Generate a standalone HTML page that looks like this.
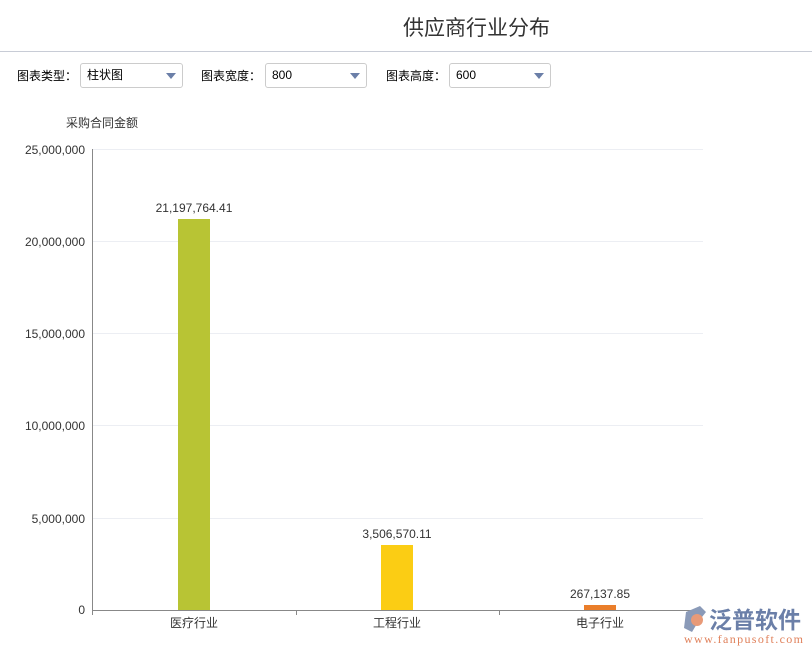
<!DOCTYPE html>
<html><head><meta charset="utf-8"><style>
body{margin:0;width:812px;height:654px;background:#fff;font-family:"Liberation Sans","Noto Sans CJK SC",sans-serif;position:relative;overflow:hidden}
.t{position:absolute;white-space:nowrap}
.sel{position:absolute;top:63px;border:1px solid #ccc;border-radius:3px;background:#fff;font-size:12px;line-height:23px;padding-left:6px;box-sizing:border-box;height:25px;color:#000}
.sel:after{content:"";position:absolute;right:6px;top:9px;border-left:5px solid transparent;border-right:5px solid transparent;border-top:6px solid #6b7fa8}
</style></head><body>
<div class="t" style="left:403px;top:12px;font-size:21px;color:#333">供应商行业分布</div>
<div style="position:absolute;left:0;top:51px;width:812px;height:1px;background:#c8ccd6"></div>
<div class="t" style="left:17px;top:67px;font-size:12px;color:#000">图表类型：</div>
<div class="sel" style="left:80px;width:103px">柱状图</div>
<div class="t" style="left:201px;top:67px;font-size:12px;color:#000">图表宽度：</div>
<div class="sel" style="left:265px;width:102px">800</div>
<div class="t" style="left:386px;top:67px;font-size:12px;color:#000">图表高度：</div>
<div class="sel" style="left:449px;width:102px">600</div>
<svg width="812" height="654" style="position:absolute;left:0;top:0" font-family="Liberation Sans, Noto Sans CJK SC, sans-serif">
<text x="66" y="127" font-size="12" fill="#333">采购合同金额</text>
<g stroke="#eceef3" stroke-width="1">
<line x1="92" y1="149.5" x2="703" y2="149.5"/><line x1="92" y1="241.5" x2="703" y2="241.5"/>
<line x1="92" y1="333.5" x2="703" y2="333.5"/><line x1="92" y1="425.5" x2="703" y2="425.5"/>
<line x1="92" y1="518.5" x2="703" y2="518.5"/></g>
<g font-size="12" fill="#333" text-anchor="end">
<text x="85" y="154">25,000,000</text><text x="85" y="246">20,000,000</text>
<text x="85" y="338">15,000,000</text><text x="85" y="430">10,000,000</text>
<text x="85" y="523">5,000,000</text><text x="85" y="614">0</text></g>
<rect x="178" y="219" width="32" height="391" fill="#b8c434"/>
<rect x="381" y="545" width="32" height="65" fill="#fbcd14"/>
<rect x="584" y="605" width="32" height="5" fill="#ea7e2a"/>
<g stroke="#888" stroke-width="1">
<line x1="92.5" y1="149" x2="92.5" y2="610"/>
<line x1="92" y1="610.5" x2="703" y2="610.5"/>
<line x1="92.5" y1="610" x2="92.5" y2="615"/><line x1="296.5" y1="610" x2="296.5" y2="615"/>
<line x1="499.5" y1="610" x2="499.5" y2="615"/><line x1="702.5" y1="610" x2="702.5" y2="615"/></g>
<g font-size="12" fill="#333" text-anchor="middle">
<text x="194" y="212">21,197,764.41</text><text x="397" y="538">3,506,570.11</text><text x="600" y="598">267,137.85</text>
<text x="194" y="627">医疗行业</text><text x="397" y="627">工程行业</text><text x="600" y="627">电子行业</text></g>
<polygon points="686,612 700,606 706,612 698,622 692,632 684,628" fill="#8a9ab8"/>
<circle cx="697" cy="620" r="6" fill="#e89a78"/>
<text x="709" y="628" font-size="23" fill="#6b7fa8" font-weight="bold">泛普软件</text>
<text x="684" y="643" font-size="12" fill="#e0805a" font-family="Liberation Serif, serif" textLength="119" lengthAdjust="spacing">www.fanpusoft.com</text>
</svg>
</body></html>
